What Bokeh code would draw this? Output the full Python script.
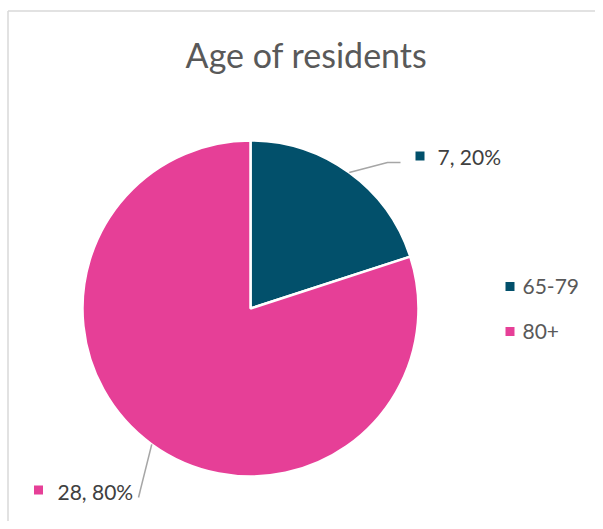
import math
from bokeh.plotting import figure
from bokeh.models import Range1d
from bokeh.core.properties import value
from bokeh.embed import file_html
from bokeh.resources import INLINE

# data
categories = ["65-79", "80+"]
counts = [7, 28]
colors = ["#02506B", "#E63F97"]
title = "Age of residents"

W, H = 595, 521
FONT = "Lato"

def Y(py):
    return H - py

p = figure(width=W, height=H, output_backend="svg", toolbar_location=None,
           x_range=Range1d(0, W), y_range=Range1d(0, H), min_border=0)
p.axis.visible = False
p.grid.visible = False
p.outline_line_color = None
p.background_fill_color = "white"

# chart border (left and top visible)
p.line(x=[7.5, 7.5], y=[Y(10.5), Y(540)], line_color="#D9D9D9", line_width=1.5)
p.line(x=[7.5, 610], y=[Y(10.5), Y(10.5)], line_color="#D9D9D9", line_width=1.5)

# title
p.text(x=[306], y=[Y(54)], text=[title], text_font=value(FONT), text_font_size="34px",
       text_color="#595959", text_align="center", text_baseline="middle")

cx, cy, r = 250, Y(308), 168
total = sum(counts)
start = math.pi / 2
starts, ends, mids = [], [], []
for c in counts:
    ang = 2 * math.pi * c / total
    starts.append(start)
    ends.append(start - ang)
    mids.append(start - ang / 2)
    start -= ang

p.wedge(x=[cx] * len(counts), y=[cy] * len(counts), radius=r,
        start_angle=starts, end_angle=ends, direction="clock",
        fill_color=colors, line_color="white", line_width=2.5)

labels = [f"{c}, {round(100 * c / total)}%" for c in counts]

# leader lines
m0 = mids[0]
p0 = (cx + r * math.cos(m0), cy + r * math.sin(m0))
p.line(x=[p0[0], 387, 400], y=[p0[1], Y(162), Y(162)], line_color="#A6A6A6", line_width=1.5)
m1 = mids[1]
p1 = (cx + r * math.cos(m1), cy + r * math.sin(m1))
p.line(x=[p1[0], 138], y=[p1[1], Y(497)], line_color="#A6A6A6", line_width=1.5)

# data labels
p.scatter(x=[419.5, 38], y=[Y(155.5), Y(489.5)], marker="square", size=9,
          fill_color=colors, line_color=None)
p.text(x=[437, 57], y=[Y(156), Y(491)], text=labels, text_font=value(FONT),
       text_font_size="21px", text_color="#404040", text_baseline="middle")

# legend
p.scatter(x=[509.5, 509.5], y=[Y(286), Y(331)], marker="square", size=9,
          fill_color=colors, line_color=None)
p.text(x=[522, 522], y=[Y(286), Y(331)], text=categories, text_font=value(FONT),
       text_font_size="21px", text_color="#595959", text_baseline="middle")

open("out.html", "w").write(file_html(p, INLINE))
